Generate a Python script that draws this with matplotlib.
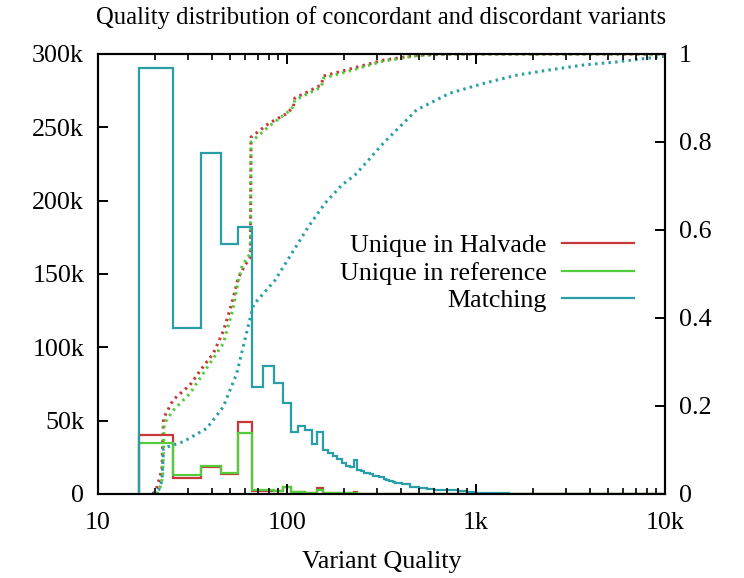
import numpy as np
import matplotlib
matplotlib.use("Agg")
import matplotlib.pyplot as plt
from matplotlib.ticker import FixedLocator, LogLocator, NullFormatter

plt.rcParams['font.family'] = ['Liberation Serif', 'DejaVu Serif']

# histogram bin edges (variant quality)
edges = [16.5, 25, 35, 45, 55] + list(range(65, 406, 10)) + \
        [450, 500, 550, 600, 700, 800, 900, 1000, 1200, 1500, 2000, 10000]

# counts per bin (thousands)
matching = [290.2, 113.0, 232.7, 170.5, 182.3,
            73.0, 87.0, 75.5, 62.0, 42.5, 46.4, 43.6, 34.1, 42.5, 30.0,
            28.2, 25.9, 23.6, 20.9, 19.3, 18.2, 23.2, 16.4, 16.0, 14.5,
            14.5, 13.6, 12.5, 12.2, 11.5, 11.8, 10.0, 9.5, 9.1, 8.8,
            8.2, 7.8, 7.5, 7.3,
            6.5, 5.0, 4.2, 3.6, 3.0, 2.4, 1.9, 1.5, 1.0, 0.6, 0.3, 0.0]
halvade = [40.2, 11.1, 18.5, 13.4, 49.3,
           2.2, 2.2, 2.0, 4.5, 1.5, 1.2, 1.0, 1.0, 3.8, 1.0,
           0.8, 0.6, 0.6, 0.5, 0.4, 0.4, 1.5, 0.3, 0.3, 0.3,
           0.2, 0.2, 0.2, 0.1, 0.1, 0.1, 0.1, 0.1, 0.1, 0.1,
           0.0, 0.0, 0.0, 0.0,
           0.0, 0.0, 0.0, 0.0, 0.0, 0.0, 0.0, 0.0, 0.0, 0.0, 0.0, 0.0]
reference = [35.0, 13.0, 19.1, 14.5, 41.8,
             2.5, 2.5, 2.3, 4.8, 1.5, 1.2, 1.0, 1.0, 3.0, 1.0,
             0.8, 0.6, 0.6, 0.5, 0.4, 0.4, 0.8, 0.3, 0.3, 0.3,
             0.2, 0.2, 0.2, 0.1, 0.1, 0.1, 0.1, 0.1, 0.1, 0.1,
             0.0, 0.0, 0.0, 0.0,
             0.0, 0.0, 0.0, 0.0, 0.0, 0.0, 0.0, 0.0, 0.0, 0.0, 0.0, 0.0]

# cumulative fractions (right axis)
cum_halvade_q = [19.5, 20.5, 21.3, 21.8, 22.2, 25, 30.7, 34.7, 37.6, 40.8, 46, 50, 53,
                 55, 60, 64, 64.5, 80, 100, 108, 110, 130, 152, 156, 220, 323, 485,
                 700, 1000, 10000]
cum_halvade = [0, 0.015, 0.04, 0.06, 0.172, 0.214, 0.248, 0.28, 0.30, 0.32, 0.37, 0.42,
               0.46, 0.49, 0.52, 0.538, 0.811, 0.842, 0.865, 0.88, 0.90, 0.915, 0.93,
               0.95, 0.967, 0.986, 0.997, 1.0, 1.0, 1.0]
cum_reference_q = [20.5, 21.5, 22.0, 22.4, 25, 30.7, 37.6, 46, 51.6, 55, 58, 64, 64.5,
                   80, 106, 110, 152, 156, 220, 323, 485, 700, 10000]
cum_reference = [0, 0.02, 0.04, 0.16, 0.19, 0.229, 0.286, 0.342, 0.418, 0.48, 0.52,
                 0.547, 0.80, 0.835, 0.875, 0.895, 0.925, 0.945, 0.963, 0.984, 0.996,
                 1.0, 1.0]
cum_matching_q = [19.5, 21.0, 21.8, 22.2, 28.3, 37.6, 46, 54.2, 61, 66.5, 86.5, 106,
                  130, 159, 195, 229, 275, 323, 485, 728, 1094, 1641, 2466, 3700,
                  5550, 10000]
cum_matching = [0, 0.01, 0.03, 0.104, 0.119, 0.149, 0.198, 0.274, 0.365, 0.43, 0.486,
                0.547, 0.608, 0.661, 0.702, 0.725, 0.763, 0.797, 0.873, 0.911, 0.933,
                0.952, 0.964, 0.975, 0.982, 0.995]

labels = ["Unique in Halvade", "Unique in reference", "Matching"]
colors = ["#c8373a", "#52cc3a", "#2a9ea6"]

fs = 18.7
fig = plt.figure(figsize=(7.44, 5.78), dpi=100)
ax = fig.add_axes([98 / 744, 1 - 494 / 578, 567 / 744, 440 / 578])
ax2 = ax.twinx()

hists = [halvade, reference, matching]
for vals, lab, c in zip(hists, labels, colors):
    ax.stairs(np.array(vals) * 1000, edges, baseline=0, color=c, lw=1.6, label=lab)

cums = [(cum_halvade_q, cum_halvade), (cum_reference_q, cum_reference),
        (cum_matching_q, cum_matching)]
for (q, f), c in zip(cums, colors):
    ax2.plot(q, f, color=c, lw=2.2, linestyle=(0, (0.8, 1.4)))

ax.set_xscale('log')
ax.set_xlim(10, 10000)
ax.set_ylim(0, 300000)
ax2.set_ylim(0, 1)

ax.xaxis.set_major_locator(FixedLocator([10, 100, 1000, 10000]))
ax.set_xticklabels(["10", "100", "1k", "10k"])
ax.xaxis.set_minor_locator(LogLocator(base=10, subs=np.arange(2, 10)))
ax.xaxis.set_minor_formatter(NullFormatter())
yt = np.arange(0, 300001, 50000)
ax.set_yticks(yt)
ax.set_yticklabels(["0"] + ["%dk" % (v // 1000) for v in yt[1:]])
ax2.set_yticks([0, 0.2, 0.4, 0.6, 0.8, 1.0])
ax2.set_yticklabels(["0", "0.2", "0.4", "0.6", "0.8", "1"])

ax.tick_params(axis='x', which='both', direction='in', top=True, labelsize=fs, pad=13)
ax.tick_params(axis='x', which='major', length=7, width=1.4)
ax.tick_params(axis='x', which='minor', length=4, width=1.2)
ax.tick_params(axis='y', direction='in', right=False, length=7, width=1.4,
               labelsize=fs, pad=10)
ax2.tick_params(axis='y', direction='in', length=7, width=1.4, labelsize=fs, pad=10)

for a in (ax, ax2):
    for s in a.spines.values():
        s.set_linewidth(1.5)

ax.set_xlabel("Variant Quality", fontsize=fs, labelpad=12)
# the reference shows this label clipped at the left edge
ax.set_ylabel("Variants", fontsize=fs)
ax.yaxis.set_label_coords(-0.166, 0.5)
fig.text(381 / 744, 1 - 18 / 578, "Quality distribution of concordant and discordant variants",
         ha='center', va='center', fontsize=17.7)

leg = ax.legend(loc='center right', bbox_to_anchor=(0.945, 0.502), frameon=False,
                markerfirst=False, fontsize=fs, handlelength=2.75, handletextpad=0.6,
                labelspacing=0.17, borderpad=0, borderaxespad=0)
leg.set_zorder(5)
ax.set_zorder(ax2.get_zorder() + 1)
ax.patch.set_visible(False)

fig.savefig("out.png", dpi=100)
